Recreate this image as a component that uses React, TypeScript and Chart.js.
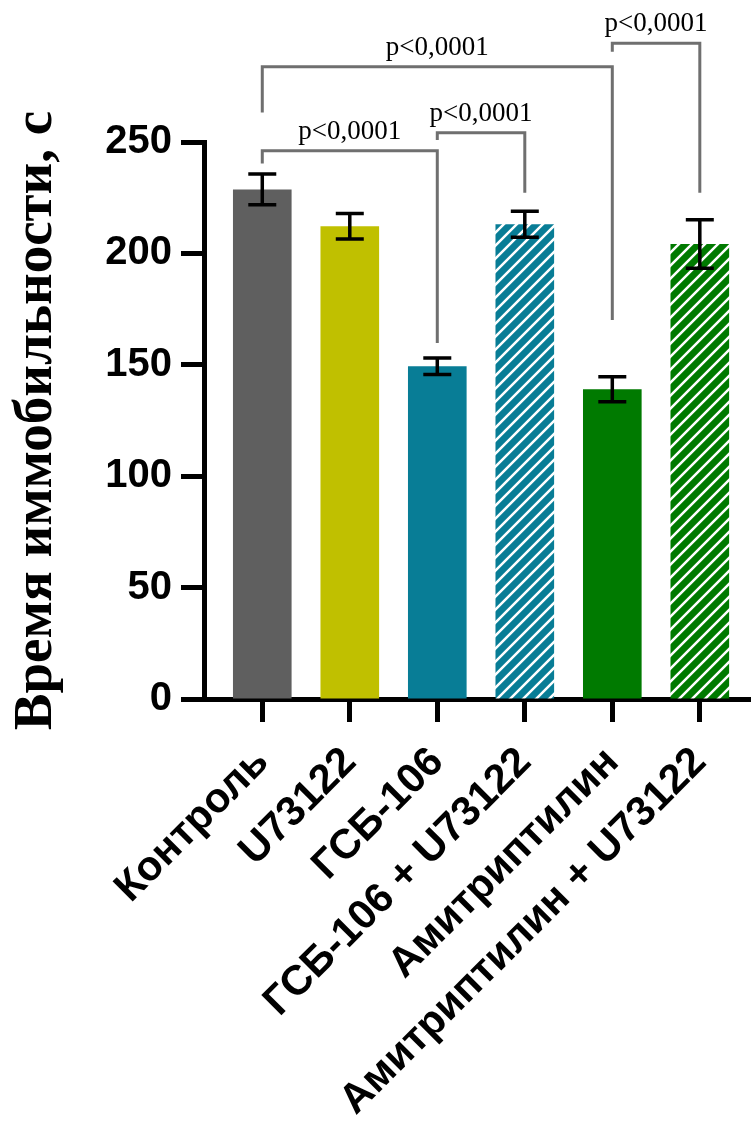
import React, { useEffect, useRef } from 'react';
import { Chart, registerables } from 'chart.js';

Chart.register(...registerables);

// ---- data ----
const categories = [
  'Контроль',
  'U73122',
  'ГСБ-106',
  'ГСБ-106 + U73122',
  'Амитриптилин',
  'Амитриптилин + U73122',
];
const means = [228.7, 212.2, 149.4, 213.1, 139.0, 204.2];
const sems = [6.9, 5.7, 3.7, 5.8, 5.6, 10.9];
const yTickValues = [0, 50, 100, 150, 200, 250];
const yTitle = 'Время иммобильности, с';

// significance comparisons (category indices, levels in data units)
const compFrom = [0, 2, 0, 4];
const compTo = [2, 3, 4, 5];
const compLevel = [246.1, 254.2, 283.8, 294.3];
const compLeftEnd = [240.4, 250.9, 263.2, 290.5];
const compRightEnd = [159.8, 227.2, 170.1, 227.2];
const compLabels = ['p<0,0001', 'p<0,0001', 'p<0,0001', 'p<0,0001'];

// ---- styles ----
const barColors = ['#5f5f5f', '#c0c000', '#087d96', '#087d96', '#007a00', '#007a00'];
const hatched = [false, false, false, true, false, true];

function makeHatch(color: string) {
  const s = 13;
  const c = document.createElement('canvas');
  c.width = s;
  c.height = s;
  const g = c.getContext('2d')!;
  g.fillStyle = color;
  g.fillRect(0, 0, s, s);
  g.strokeStyle = '#ffffff';
  g.lineWidth = 2.5;
  g.beginPath();
  g.moveTo(-2, s + 2);
  g.lineTo(s + 2, -2);
  g.moveTo(-2, 2);
  g.lineTo(2, -2);
  g.moveTo(s - 2, s + 2);
  g.lineTo(s + 2, s - 2);
  g.stroke();
  return g.createPattern(c, 'repeat') as CanvasPattern;
}

const annotationPlugin = {
  id: 'annotations',
  afterDatasetsDraw(chart: any) {
    const ctx = chart.ctx as CanvasRenderingContext2D;
    const xs = chart.scales.x;
    const ys = chart.scales.y;
    ctx.save();
    // error bars
    ctx.strokeStyle = '#000';
    ctx.lineWidth = 3.5;
    ctx.lineCap = 'butt';
    means.forEach((m, i) => {
      const x = xs.getPixelForValue(i);
      const yt = ys.getPixelForValue(m + sems[i]);
      const yb = ys.getPixelForValue(m - sems[i]);
      ctx.beginPath();
      ctx.moveTo(x, yt);
      ctx.lineTo(x, yb);
      ctx.moveTo(x - 14, yt);
      ctx.lineTo(x + 14, yt);
      ctx.moveTo(x - 14, yb);
      ctx.lineTo(x + 14, yb);
      ctx.stroke();
    });
    // brackets
    ctx.strokeStyle = '#6f6f6f';
    ctx.lineWidth = 3;
    ctx.lineJoin = 'miter';
    ctx.fillStyle = '#000';
    ctx.font = "27px 'Liberation Serif', 'Times New Roman', serif";
    ctx.textAlign = 'center';
    ctx.textBaseline = 'alphabetic';
    compFrom.forEach((f, k) => {
      const x1 = xs.getPixelForValue(f);
      const x2 = xs.getPixelForValue(compTo[k]);
      const yh = ys.getPixelForValue(compLevel[k]);
      const yl = ys.getPixelForValue(compLeftEnd[k]);
      const yr = ys.getPixelForValue(compRightEnd[k]);
      ctx.beginPath();
      ctx.moveTo(x1, yl);
      ctx.lineTo(x1, yh);
      ctx.lineTo(x2, yh);
      ctx.lineTo(x2, yr);
      ctx.stroke();
      ctx.fillText(compLabels[k], (x1 + x2) / 2, yh - 12);
    });
    ctx.restore();
  },
};

export default function App() {
  const ref = useRef<HTMLCanvasElement | null>(null);
  useEffect(() => {
    if (!ref.current) return;
    const yTickFont = { family: "'Liberation Sans', Arial, sans-serif", size: 40, weight: 'bold' as const };
    const xTickFont = { family: "'Liberation Sans', Arial, sans-serif", size: 41.5, weight: 'bold' as const };
    const chart = new Chart(ref.current, {
      type: 'bar',
      data: {
        datasets: [
          {
            data: means.map((m, i) => ({ x: i, y: m })),
            backgroundColor: barColors.map((c, i) => (hatched[i] ? makeHatch(c) : c)),
            borderWidth: 0,
            barPercentage: 0.67,
            categoryPercentage: 1,
          } as any,
        ],
      },
      options: {
        responsive: false,
        animation: false,
        devicePixelRatio: 1,
        layout: { padding: { top: 142, left: 0, right: 0, bottom: 0 } },
        plugins: { legend: { display: false }, tooltip: { enabled: false } },
        scales: {
          x: {
            type: 'linear',
            min: -0.666,
            max: 5.585,
            bounds: 'data',
            offset: false,
            afterBuildTicks: (s: any) => {
              s.ticks = categories.map((_, i) => ({ value: i }));
            },
            afterFit: (s: any) => {
              s.height = 423;
              s.paddingLeft = 0;
              s.paddingRight = 0;
            },
            ticks: {
              autoSkip: false,
              minRotation: 45,
              maxRotation: 45,
              padding: 16,
              color: '#000',
              font: xTickFont,
              callback: (v: any) => categories[v as number] ?? '',
            },
            grid: {
              display: true,
              drawOnChartArea: false,
              drawTicks: true,
              tickLength: 23,
              tickWidth: 5,
              tickColor: '#000',
              offset: false,
            },
            border: { display: true, width: 5, color: '#000' },
          },
          y: {
            min: 0,
            max: 250,
            afterBuildTicks: (s: any) => {
              s.ticks = yTickValues.map((v) => ({ value: v }));
            },
            afterFit: (s: any) => {
              s.width = 204;
            },
            ticks: { padding: 9, color: '#000', font: yTickFont },
            grid: {
              display: true,
              drawOnChartArea: false,
              drawTicks: true,
              tickLength: 23,
              tickWidth: 5,
              tickColor: '#000',
            },
            border: { display: true, width: 5, color: '#000' },
            title: {
              display: true,
              text: yTitle,
              color: '#000',
              font: { family: "'Liberation Serif', 'Times New Roman', serif", size: 55, weight: 'bold' },
              padding: { top: 4, bottom: 0 },
            },
          },
        },
      } as any,
      plugins: [annotationPlugin],
    });
    return () => chart.destroy();
  }, []);
  return (
    <div style={{ position: 'absolute', left: 0, top: 0, width: 751, height: 1122 }}>
      <canvas ref={ref} width={751} height={1122} style={{ display: 'block', width: 751, height: 1122 }} />
    </div>
  );
}
